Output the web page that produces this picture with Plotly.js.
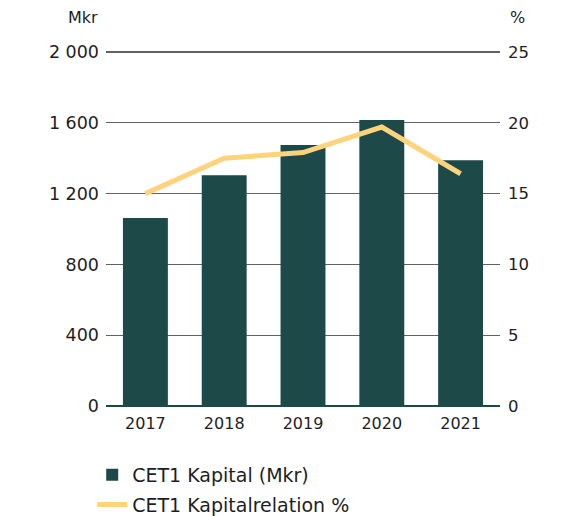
<!DOCTYPE html>
<html>
<head>
<meta charset="utf-8">
<script src="https://cdn.plot.ly/plotly-3.0.1.min.js"></script>
<style>html,body{margin:0;padding:0;background:#fff;}#chart{width:566px;height:516px;}</style>
</head>
<body>
<div id="chart"></div>
<script>
const years = ["2017", "2018", "2019", "2020", "2021"];
const cet1Kapital = [1062, 1304, 1475, 1616, 1388];
const cet1Relation = [15.0, 17.5, 17.9, 19.7, 16.4];
const leftTicks = [0, 400, 800, 1200, 1600, 2000];
const leftTickText = ["0", "400", "800", "1\u00a0200", "1\u00a0600", "2\u00a0000"];
const rightTicks = [0, 5, 10, 15, 20, 25];

const font = "'DejaVu Sans', sans-serif";
const traces = [
  {
    type: "bar", x: years, y: cet1Kapital, name: "CET1 Kapital (Mkr)",
    marker: {color: "#1e4949"}, yaxis: "y", hoverinfo: "skip", legendgroup: "a"
  },
  {
    type: "scatter", mode: "lines", x: years, y: cet1Relation, name: "CET1 Kapitalrelation %",
    line: {color: "#ffd27c", width: 5}, yaxis: "y2", hoverinfo: "skip", legendgroup: "b"
  }
];
const layout = {
  width: 566, height: 516,
  margin: {l: 106, r: 66, t: 50, b: 110, autoexpand: false},
  paper_bgcolor: "#fff", plot_bgcolor: "#fff",
  font: {family: font, size: 16, color: "#1e1e1e"},
  bargap: 0.43,
  showlegend: true,
  legend: {x: -0.035, xanchor: "left", y: -0.14, yanchor: "top", orientation: "v",
           traceorder: "grouped", tracegroupgap: 2,
           font: {size: 19, color: "#1e1e1e"}, itemwidth: 30, bgcolor: "rgba(0,0,0,0)"},
  xaxis: {type: "category", range: [-0.5, 4.5], showgrid: false, zeroline: false,
          showline: false, ticks: "", ticklabelstandoff: 6, tickfont: {size: 16}},
  yaxis: {range: [0, 2011.3], tickvals: leftTicks, ticktext: leftTickText,
          showgrid: true, gridcolor: "#626262", gridwidth: 1.2,
          zeroline: true, zerolinecolor: "#1e4949", zerolinewidth: 2.5,
          showline: false, ticks: "", ticklabelstandoff: 6, tickfont: {size: 17.5}},
  yaxis2: {range: [0, 25.141], tickvals: rightTicks, overlaying: "y", side: "right",
           showgrid: false, zeroline: false, showline: false, ticks: "",
           ticklabelstandoff: 7, tickfont: {size: 16.5}},
  annotations: [
    {text: "Mkr", xref: "paper", yref: "paper", x: -0.015, y: 1.09, xanchor: "right", yanchor: "middle",
     showarrow: false, font: {size: 16, color: "#1e1e1e"}},
    {text: "%", xref: "paper", yref: "paper", x: 1.02, y: 1.09, xanchor: "left", yanchor: "middle",
     showarrow: false, font: {size: 16, color: "#1e1e1e"}}
  ]
};
Plotly.newPlot("chart", traces, layout, {displayModeBar: false, staticPlot: true});
</script>
</body>
</html>
